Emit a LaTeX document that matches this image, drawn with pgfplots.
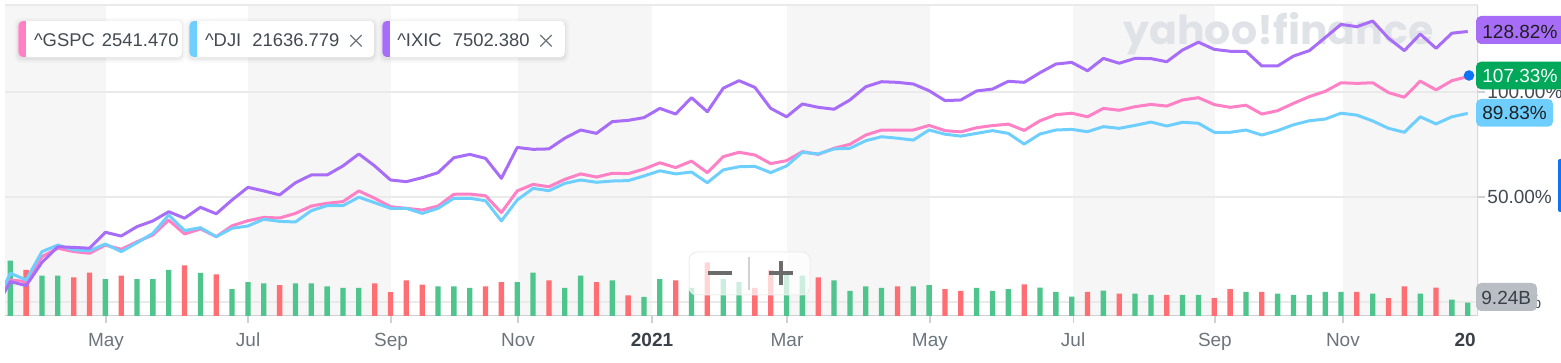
\documentclass[border=0pt]{standalone}
\usepackage{fontspec}
\setmainfont{Liberation Sans}
\newfontfamily\wmfont{Poppins}
\usepackage{pgfplots}
\pgfplotsset{compat=1.18}
\usepackage{pgfplotstable}
\definecolor{gspc}{RGB}{255,128,197}
\definecolor{dji}{RGB}{110,207,255}
\definecolor{ixic}{RGB}{168,109,248}
\definecolor{vgreen}{RGB}{77,197,140}
\definecolor{vred}{RGB}{255,110,115}
\definecolor{band}{RGB}{246,246,246}
\definecolor{gridc}{RGB}{234,234,234}
\definecolor{axc}{RGB}{205,209,213}
\definecolor{lab}{RGB}{108,116,124}
\definecolor{dark}{RGB}{58,64,72}
\definecolor{txt}{RGB}{66,74,82}
\definecolor{gbox}{RGB}{0,168,90}
\definecolor{vbox}{RGB}{185,190,197}
\definecolor{dotc}{RGB}{12,116,245}
\definecolor{wm}{RGB}{223,226,231}

\pgfplotstableread{
i gspc dji ixic
-0.4 6.7 7.1 4.3
0 10.5 13.7 9.7
1 9.7 10.5 7.8
2 21.6 24.0 18.9
3 25.6 27.1 26.3
4 24.0 24.8 26.0
5 23.2 24.4 25.6
6 27.1 27.6 33.2
7 25.1 24.0 31.4
8 28.7 28.2 35.9
9 31.9 32.7 38.6
10 39.0 41.4 43.0
11 32.4 34.0 39.9
12 34.8 35.4 45.1
13 31.1 31.1 42.0
14 36.3 35.1 48.6
15 38.7 36.2 54.6
16 40.3 39.4 52.9
17 40.0 38.4 51.0
18 42.2 38.1 56.8
19 45.7 43.5 60.5
20 47.0 45.9 60.5
21 47.8 45.9 64.8
22 52.9 49.9 70.5
23 49.4 47.3 64.8
24 45.4 44.6 58.1
25 44.6 44.6 57.3
26 43.8 42.2 59.2
27 45.7 44.6 61.6
28 51.3 49.4 68.7
29 51.4 49.4 70.3
30 50.6 48.2 68.4
31 42.6 38.6 58.9
32 52.9 48.6 73.6
33 56.0 54.1 72.7
34 54.9 53.0 72.9
35 58.4 56.5 78.0
36 61.0 58.1 81.9
37 59.5 57.0 80.3
38 61.3 57.6 85.9
39 61.1 57.8 86.5
40 63.3 60.0 87.8
41 66.3 62.5 92.2
42 64.0 61.0 89.5
43 67.1 61.9 97.3
44 61.6 56.8 90.6
45 69.2 62.9 101.8
46 71.3 64.4 105.4
47 70.0 64.6 102.2
48 65.9 61.6 92.2
49 67.3 64.8 88.2
50 71.6 71.3 94.3
51 70.3 70.5 92.7
52 73.2 72.9 91.8
53 75.1 73.2 96.2
54 79.5 76.8 102.5
55 81.9 78.7 104.9
56 81.9 78.0 104.6
57 81.9 77.1 103.8
58 84.1 81.9 100.6
59 81.6 79.9 95.9
60 81.0 79.0 96.2
61 83.0 80.3 100.5
62 84.0 81.6 101.4
63 84.7 80.3 105.1
64 81.7 75.2 104.6
65 86.3 80.0 109.2
66 89.2 81.9 113.3
67 89.9 82.2 114.1
68 88.2 81.1 110.1
69 92.2 83.5 116.0
70 91.3 82.7 113.7
71 93.0 84.1 116.0
72 94.1 85.7 115.9
73 93.3 83.8 114.4
74 96.2 85.6 120.0
75 97.3 85.1 123.7
76 94.0 80.8 120.3
77 92.7 80.8 119.4
78 93.7 81.9 119.4
79 89.5 79.5 112.4
80 91.1 81.6 112.4
81 94.6 84.4 117.1
82 97.8 86.3 119.7
83 100.3 87.1 125.9
84 104.4 89.9 132.2
85 104.1 89.0 131.1
86 104.4 86.2 133.8
87 99.7 82.7 125.6
88 97.5 80.8 119.7
89 105.2 88.2 127.6
90 101.0 84.8 120.8
91 105.4 88.2 128.0
92 107.33 89.83 128.82
}\lines

\pgfplotstableread{
i v
0 38.4
2 28.0
3 28.0
6 25.7
8 25.7
9 25.7
10 32.0
12 29.9
14 18.6
15 23.6
16 22.7
18 22.7
19 22.7
20 20.6
21 19.5
22 19.5
27 20.6
28 20.6
29 19.5
32 23.6
33 30.1
35 19.5
36 28.0
38 24.8
40 13.2
41 25.7
43 19.5
45 25.7
46 23.6
49 29.9
50 28.0
52 24.8
53 17.4
54 20.6
55 19.5
57 20.6
58 21.5
61 19.5
62 17.4
63 18.6
65 19.7
66 16.7
67 13.4
69 17.6
71 15.5
72 14.6
74 14.6
75 14.6
78 16.7
80 15.5
81 14.6
82 14.6
83 16.7
84 16.7
86 15.5
89 15.5
91 11.3
92 9.24
}\volup

\pgfplotstableread{
i v
1 32.0
4 26.9
5 30.1
7 28.0
11 35.2
13 29.0
17 21.5
23 22.7
24 16.5
25 24.8
26 21.8
30 20.6
31 23.6
34 24.8
37 23.6
39 14.4
42 24.8
44 37.3
47 19.5
48 32.0
51 26.9
56 20.6
59 18.6
60 17.4
64 22.0
68 16.7
70 15.5
73 14.6
76 12.5
77 18.6
79 16.7
85 16.7
87 12.5
88 20.6
90 19.7
}\voldown

\newcommand\legbox[3]{%
  \foreach \d/\o in {4/0.018,2.5/0.025,1.2/0.035}{\fill[black,opacity=\o,rounded corners=3pt] ({#1-\d},{20.7-\d+1.5}) rectangle ({#2+\d},{57.3+\d+1.5});}
  \begin{scope}
    \clip[rounded corners=2.5pt] (#1,20.7) rectangle (#2,57.3);
    \fill[white] (#1,20.7) rectangle (#2,57.3);
    \fill[#3] (#1,20.7) rectangle ({#1+7.6},57.3);
  \end{scope}}

\begin{document}
\begin{tikzpicture}
\useasboundingbox (0,0) rectangle (780.5pt,181.5pt);
\pgfplotsset{
  base/.style={at={(2.5pt,23.5pt)}, anchor=south west, width=736.5pt, height=155.5pt,
    scale only axis, xmin=-0.335, xmax=92.65},
  pct/.style={ymin=-6.667, ymax=141.43},
}
% alternating bands
\begin{axis}[base, pct, hide axis]
\fill[band] (axis cs:-1,-10) rectangle (axis cs:6.04,150);
\fill[band] (axis cs:15.01,-10) rectangle (axis cs:24.03,150);
\fill[band] (axis cs:32.05,-10) rectangle (axis cs:40.51,150);
\fill[band] (axis cs:49.03,-10) rectangle (axis cs:58.05,150);
\fill[band] (axis cs:67.09,-10) rectangle (axis cs:76.04,150);
\fill[band] (axis cs:84.12,-10) rectangle (axis cs:93,150);
\end{axis}
% grid, ticks, labels
\begin{axis}[base, pct,
  axis line style={draw=none},
  xtick={6.04,15.01,24.03,32.05,40.51,49.03,58.05,67.09,76.04,84.12},
  xticklabels={May,Jul,Sep,Nov,\textbf{\textcolor{dark}{2021}},Mar,May,Jul,Sep,Nov},
  extra x ticks={91.84}, extra x tick labels={\textbf{\textcolor{dark}{20}}},
  extra x tick style={tick style={draw=none}},
  ytick={0,50,100}, yticklabels={0.00\%,50.00\%,100.00\%},
  xtick pos=left, ytick pos=right, yticklabel pos=right,
  tick align=outside, major tick length=3.5pt,
  tick style={draw=axc, line width=0.6pt},
  ymajorgrids, grid style={draw=gridc, line width=0.6pt},
  tick label style={font=\fontsize{9.5}{11}\selectfont, text=lab},
  xticklabel style={anchor=base, yshift=-11.7pt, inner sep=0pt},
  yticklabel style={anchor=west, xshift=1pt, inner sep=0pt, text=txt},
]
\draw[axc, line width=0.9pt] (rel axis cs:0,0) -- (rel axis cs:1,0);
\draw[axc!80, line width=0.6pt] (rel axis cs:1,0) -- (rel axis cs:1,1);
\draw[gridc, line width=0.6pt] (rel axis cs:0,1) -- (rel axis cs:1,1);
\end{axis}
% volume bars
\begin{axis}[base, ymin=0, ymax=216.1, hide axis]
\addplot[ybar, bar width=2.65pt, bar shift=0pt, fill=vgreen, draw=none] table[x=i,y=v]{\volup};
\addplot[ybar, bar width=2.65pt, bar shift=0pt, fill=vred, draw=none] table[x=i,y=v]{\voldown};
\end{axis}
% watermark
\begin{scope}[x=0.5pt, y=-0.5pt, shift={(0pt,181.5pt)}]
\node[anchor=base west, inner sep=0pt, text=wm] at (1123,45) {\resizebox{155pt}{16pt}{\wmfont\bfseries yahoo!finance}};
\end{scope}
% lines
\begin{axis}[base, pct, hide axis]
\addplot[draw=gspc, line width=1.5pt, line join=round] table[x=i,y=gspc]{\lines};
\addplot[draw=dji, line width=1.5pt, line join=round] table[x=i,y=dji]{\lines};
\addplot[draw=ixic, line width=1.5pt, line join=round] table[x=i,y=ixic]{\lines};
\end{axis}
% annotations
\begin{scope}[x=0.5pt, y=-0.5pt, shift={(0pt,181.5pt)}]
\legbox{18.4}{182}{gspc}
\legbox{189.4}{374.3}{dji}
\legbox{382.3}{565}{ixic}
\begin{scope}[font=\fontsize{9.2}{10}\selectfont, text=txt]
\node[anchor=base west, inner sep=0pt] at (33.7,46.7) {\textasciicircum GSPC\hspace{1pt} 2541.470};
\node[anchor=base west, inner sep=0pt] at (204.7,46.7) {\textasciicircum DJI\hspace{3pt} 21636.779};
\node[anchor=base west, inner sep=0pt] at (396.9,46.7) {\textasciicircum IXIC\hspace{3pt} 7502.380};
\end{scope}
\draw[lab, line width=0.6pt] (350.3,35) -- (361.7,46.5) (350.3,46.5) -- (361.7,35);
\draw[lab, line width=0.6pt] (540.3,35) -- (551.7,46.5) (540.3,46.5) -- (551.7,35);
% right value boxes
\begin{scope}[font=\fontsize{9.5}{11}\selectfont]
\fill[ixic, rounded corners=2.5pt] (1476,16) rectangle (1575,44);
\node[anchor=base west, inner sep=0pt, text=black!88] at (1482,38.3) {128.82\%};
\fill[gbox, rounded corners=2.5pt] (1476,61.7) rectangle (1575,89.3);
\node[anchor=base west, inner sep=0pt, text=white] at (1482,82.8) {107.33\%};
\fill[dji, rounded corners=2.5pt] (1476,99) rectangle (1553,126.7);
\node[anchor=base west, inner sep=0pt, text=black!88] at (1482,120) {89.83\%};
\fill[vbox, rounded corners=2.5pt] (1476,283) rectangle (1537,311);
\node[anchor=base west, inner sep=0pt, text=dark] at (1481,305) {9.24B};
\end{scope}
\fill[dotc] (1469,75.5) circle[radius=5.3];
\fill[dotc, rounded corners=1pt] (1558,159) rectangle (1566,212);
% zoom control
\fill[white, opacity=0.72, rounded corners=4pt] (689,252) rectangle (810,295);
\draw[black!7, rounded corners=4pt, line width=0.5pt] (689,252) rectangle (810,295);
\draw[black!18, line width=0.6pt] (749,257) -- (749,290);
\draw[black!58, line width=2.3pt] (708,273) -- (732,273);
\draw[black!58, line width=2.3pt] (769,273) -- (793,273) (781,261) -- (781,285);
\end{scope}
\end{tikzpicture}
\end{document}
